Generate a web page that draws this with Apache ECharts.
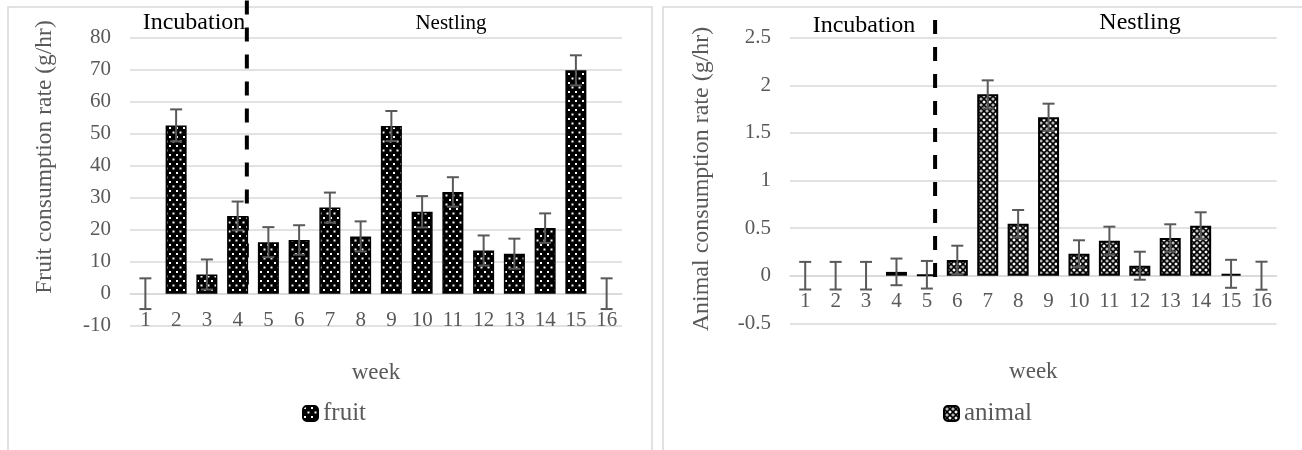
<!DOCTYPE html>
<html>
<head>
<meta charset="utf-8">
<script src="https://cdn.jsdelivr.net/npm/echarts@6/dist/echarts.min.js"></script>
<style>
html,body{margin:0;padding:0;background:#fff;}
#c{width:1302px;height:450px;}
</style>
</head>
<body>
<div id="c"></div>
<script>
// ---- data ----
const weeks = ['1','2','3','4','5','6','7','8','9','10','11','12','13','14','15','16'];
const fruitRate = [0, 52.6, 6.0, 24.3, 16.1, 16.8, 26.9, 17.9, 52.4, 25.6, 31.8, 13.5, 12.5, 20.5, 69.8, 0];
const fruitErr  = [4.8, 5.0, 4.7, 4.5, 4.7, 4.6, 4.7, 4.7, 4.7, 4.9, 4.6, 4.7, 4.7, 4.6, 4.7, 4.8];
const animalRate = [0, 0, 0, 0.04, 0.01, 0.165, 1.905, 0.546, 1.664, 0.231, 0.368, 0.105, 0.396, 0.525, 0.02, 0];
const animalErr  = [0.145, 0.145, 0.145, 0.14, 0.145, 0.15, 0.147, 0.144, 0.143, 0.141, 0.147, 0.147, 0.144, 0.141, 0.147, 0.147];
const fruitTicks = {min: -10, max: 80, interval: 10};
const animalTicks = {min: -0.5, max: 2.5, interval: 0.5};
// phase divider: after week index, offset as fraction of a category, vertical extent in data units
const fruitDivider = [3, 0.3, 91.6, 0];
const animalDivider = [4, 0.27, 2.686, -0.119];

const FONT = '"Liberation Serif","Times New Roman",serif';
const GRAY = '#595959';
const GRID = '#d9d9d9';

function makeFruitPattern(){
  const c = document.createElement('canvas'); c.width = 7; c.height = 9;
  const g = c.getContext('2d');
  g.fillStyle = '#000'; g.fillRect(0,0,7,9);
  g.fillStyle = '#fff';
  g.fillRect(1,1,2,2);
  g.fillRect(4.5,5.5,2,2);
  return c;
}
function makeAnimalPattern(){
  const c = document.createElement('canvas'); c.width = 6; c.height = 6;
  const g = c.getContext('2d');
  g.fillStyle = '#000'; g.fillRect(0,0,6,6);
  g.fillStyle = '#fff';
  const centers = [[0,0],[6,0],[0,6],[6,6],[3,3]];
  centers.forEach(([x,y])=>{
    g.beginPath();
    g.moveTo(x, y-1.8); g.lineTo(x+1.8, y); g.lineTo(x, y+1.8); g.lineTo(x-1.8, y); g.closePath();
    g.fill();
  });
  g.fillStyle = '#000';
  g.fillRect(2.5,2.5,1,1);
  return c;
}

function errorRender(params, api){
  const i = api.value(0), v = api.value(1), e = api.value(2);
  const t = api.coord([i, v + e]);
  const b = api.coord([i, v - e]);
  const cap = 6;
  const st = {stroke: GRAY, lineWidth: 2};
  return {type:'group', children:[
    {type:'line', shape:{x1:t[0], y1:t[1], x2:b[0], y2:b[1]}, style:st},
    {type:'line', shape:{x1:t[0]-cap, y1:t[1], x2:t[0]+cap, y2:t[1]}, style:st},
    {type:'line', shape:{x1:b[0]-cap, y1:b[1], x2:b[0]+cap, y2:b[1]}, style:st}
  ]};
}
function dividerRender(params, api){
  const idx = api.value(0), off = api.value(1);
  const base = api.coord([idx, 0]);
  const bw = api.size([1, 0])[0];
  const x = base[0] + off * bw;
  const y1 = api.coord([idx, api.value(2)])[1];
  const y2 = api.coord([idx, api.value(3)])[1];
  return {type:'line', shape:{x1:x, y1:y1, x2:x, y2:y2},
    style:{stroke:'#000', lineWidth:4, lineDash:[14, 13]}};
}

function xAxisCfg(gridIndex, nameGap, labelMargin){
  return {
    type:'category', gridIndex, data: weeks,
    name:'week', nameLocation:'middle', nameGap,
    nameTextStyle:{fontFamily:FONT, fontSize:23, color:GRAY},
    axisLine:{onZero:true, lineStyle:{color:GRID, width:1.5}},
    axisTick:{show:false},
    axisLabel:{fontFamily:FONT, fontSize:21, color:GRAY, margin:labelMargin},
    splitLine:{show:false}
  };
}
function yAxisCfg(gridIndex, t){
  return {
    type:'value', gridIndex, min:t.min, max:t.max, interval:t.interval,
    axisLine:{show:false}, axisTick:{show:false},
    axisLabel:{fontFamily:FONT, fontSize:21, color:GRAY, margin:19},
    splitLine:{lineStyle:{color:GRID, width:1.5}}
  };
}
// zero-height bars get no outline
function barData(vals){
  return vals.map(v => v === 0 ? {value:0, itemStyle:{borderWidth:0}} : v);
}

const chart = echarts.init(document.getElementById('c'), null, {renderer:'canvas'});
const fruitPattern = {image: makeFruitPattern(), repeat:'repeat'};
const animalPattern = {image: makeAnimalPattern(), repeat:'repeat'};

chart.setOption({
  animation:false,
  backgroundColor:'#fff',
  grid:[
    {left:130, right:680, top:37.7, bottom:124.3},
    {left:790, right:25.3, top:37.7, bottom:126.7}
  ],
  xAxis:[xAxisCfg(0, 36, -16), xAxisCfg(1, 37, -32)],
  yAxis:[yAxisCfg(0, fruitTicks), yAxisCfg(1, animalTicks)],
  legend:[
    {data:['fruit'], left:302, top:401, itemWidth:15, itemHeight:15, padding:0,
     textStyle:{fontFamily:FONT, fontSize:25, color:GRAY}},
    {data:['animal'], left:943, top:401, itemWidth:15, itemHeight:15, padding:0,
     textStyle:{fontFamily:FONT, fontSize:25, color:GRAY}}
  ],
  graphic:[
    {type:'rect', shape:{x:8, y:7, width:644, height:470}, style:{fill:'none', stroke:GRID, lineWidth:1.5}, z:-10, silent:true},
    {type:'rect', shape:{x:663, y:7, width:660, height:470}, style:{fill:'none', stroke:GRID, lineWidth:1.5}, z:-10, silent:true},
    {type:'text', x:194, y:23, style:{text:'Incubation', font:'24px '+FONT, fill:'#000', textAlign:'center', textVerticalAlign:'middle'}},
    {type:'text', x:451, y:23, style:{text:'Nestling', font:'21px '+FONT, fill:'#000', textAlign:'center', textVerticalAlign:'middle'}},
    {type:'text', x:864, y:26, style:{text:'Incubation', font:'24px '+FONT, fill:'#000', textAlign:'center', textVerticalAlign:'middle'}},
    {type:'text', x:1140, y:23, style:{text:'Nestling', font:'24px '+FONT, fill:'#000', textAlign:'center', textVerticalAlign:'middle'}},
    {type:'text', x:45, y:157, rotation:Math.PI/2, style:{text:'Fruit consumption rate (g/hr)', font:'23.5px '+FONT, fill:GRAY, textAlign:'center', textVerticalAlign:'middle'}},
    {type:'text', x:702, y:179, rotation:Math.PI/2, style:{text:'Animal consumption rate (g/hr)', font:'24px '+FONT, fill:GRAY, textAlign:'center', textVerticalAlign:'middle'}}
  ],
  series:[
    {type:'custom', name:'div1', xAxisIndex:0, yAxisIndex:0, renderItem:dividerRender, data:[fruitDivider], z:1, silent:true, encode:{x:0, y:2}},
    {type:'custom', name:'div2', xAxisIndex:1, yAxisIndex:1, renderItem:dividerRender, data:[animalDivider], z:1, silent:true, encode:{x:0, y:2}},
    {type:'bar', name:'fruit', xAxisIndex:0, yAxisIndex:0, data:barData(fruitRate), barWidth:21, z:2,
     itemStyle:{color:fruitPattern, borderColor:'#000', borderWidth:1.5}},
    {type:'bar', name:'animal', xAxisIndex:1, yAxisIndex:1, data:barData(animalRate), barWidth:21, z:2,
     itemStyle:{color:animalPattern, borderColor:'#000', borderWidth:2}},
    {type:'custom', name:'errFruit', xAxisIndex:0, yAxisIndex:0, renderItem:errorRender, z:3, silent:true,
     data: weeks.map((w,i)=>[i, fruitRate[i], fruitErr[i]]), encode:{x:0, y:1}},
    {type:'custom', name:'errAnimal', xAxisIndex:1, yAxisIndex:1, renderItem:errorRender, z:3, silent:true,
     data: weeks.map((w,i)=>[i, animalRate[i], animalErr[i]]), encode:{x:0, y:1}}
  ]
});
</script>
</body>
</html>
